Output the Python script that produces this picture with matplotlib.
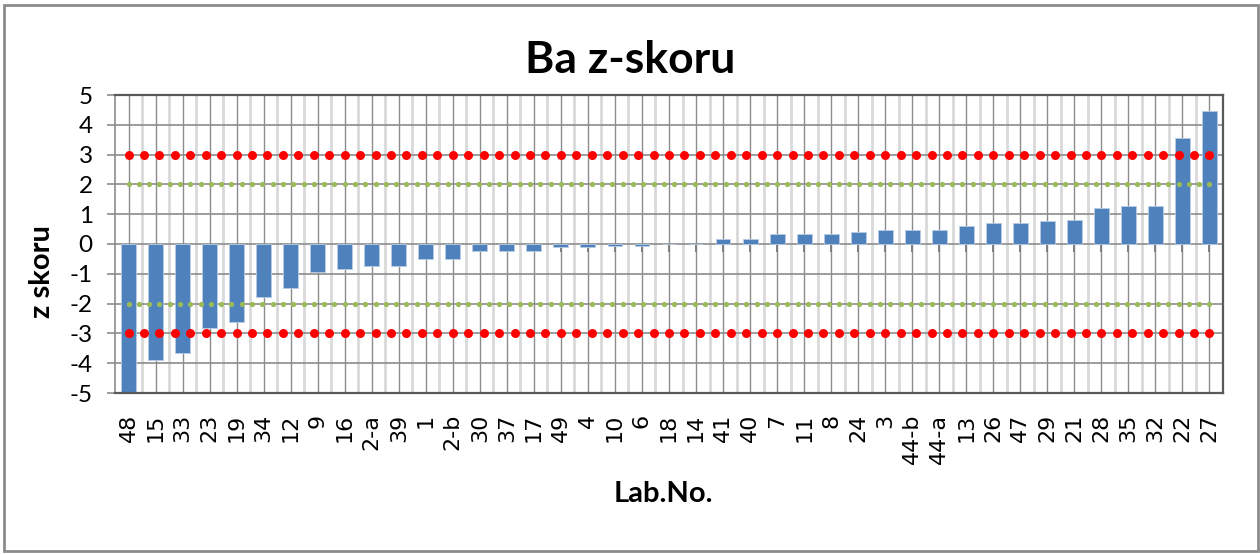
import matplotlib
matplotlib.use('Agg')
import matplotlib.pyplot as plt
import numpy as np
from matplotlib.patches import Rectangle

# Data
lab_no = ['48', '15', '33', '23', '19', '34', '12', '9', '16', '2-a', '39', '1',
          '2-b', '30', '37', '17', '49', '4', '10', '6', '18', '14', '41', '40',
          '7', '11', '8', '24', '3', '44-b', '44-a', '13', '26', '47', '29', '21',
          '28', '35', '32', '22', '27']
z_score = [-5.0, -3.89, -3.65, -2.82, -2.62, -1.79, -1.49, -0.95, -0.85, -0.75,
           -0.75, -0.5, -0.5, -0.22, -0.22, -0.22, -0.11, -0.11, -0.07, -0.07,
           0.0, 0.0, 0.16, 0.16, 0.35, 0.35, 0.35, 0.41, 0.46, 0.46, 0.46, 0.61,
           0.7, 0.7, 0.76, 0.8, 1.2, 1.29, 1.29, 3.55, 4.47]
action_limit = 3.0
warning_limit = 2.0
n_action_pts = 71
n_warning_pts = 106

# Colors
bar_color = '#4f81bd'
red = '#ff0000'
green = '#9bbb59'
grid_dark = '#8c8c8c'
grid_light = '#d9d9d9'

W, H = 1260, 554
fig = plt.figure(figsize=(W / 100, H / 100), dpi=100)
ax = fig.add_axes([115 / W, 1 - 393 / H, (1223 - 115) / W, (393 - 95) / H])

x = np.arange(len(lab_no))

# grid lines
ax.vlines(x[:-1] + 0.5, -5, 5, color=grid_light, linewidth=2, zorder=0)
ax.vlines(x, -5, 5, color=grid_dark, linewidth=1, zorder=0.5)
ax.hlines(np.arange(-4, 5), -0.5, len(lab_no) - 0.5, color=grid_dark,
          linewidth=1.2, zorder=0.5)

# bars
ax.bar(x, z_score, width=0.55, color=bar_color, edgecolor='#b8cce4',
       linewidth=0.6, zorder=2)
# small category ticks on the zero line
ax.vlines(x, -0.27, 0, color='#7f7f7f', linewidth=1.4, zorder=1)

# limit dots
xa = np.linspace(0, len(lab_no) - 1, n_action_pts)
xw = np.linspace(0, len(lab_no) - 1, n_warning_pts)
for lim in (action_limit, -action_limit):
    ax.plot(xa, [lim] * n_action_pts, linestyle='none', marker='o',
            markersize=6.5, color=red, markeredgewidth=0, zorder=3, clip_on=False)
for lim in (warning_limit, -warning_limit):
    ax.plot(xw, [lim] * n_warning_pts, linestyle='none', marker='o',
            markersize=3.8, color=green, markeredgewidth=0, zorder=3, clip_on=False)

ax.set_xlim(-0.5, len(lab_no) - 0.5)
ax.set_ylim(-5, 5)

# axes styling
for s in ['top', 'right', 'bottom']:
    ax.spines[s].set_color('#595959')
    ax.spines[s].set_linewidth(1.6)
ax.spines['left'].set_color(grid_dark)
ax.spines['left'].set_linewidth(1.2)

ax.set_yticks(np.arange(-5, 6))
ax.set_yticklabels([str(v) for v in range(-5, 6)], fontfamily='Lato', fontsize=17.5)
ax.tick_params(axis='y', length=6, color=grid_dark, width=1.2, pad=10)
ax.set_xticks(x)
ax.set_xticklabels(lab_no, rotation=90, fontfamily='DejaVu Sans', fontsize=16,
                   va='top')
ax.tick_params(axis='x', length=0, pad=15)

# titles
fig.text(630 / W, 1 - 60 / H, 'Ba z-skoru', ha='center', va='center',
         fontfamily='Lato', fontweight='bold', fontsize=32)
fig.text(42 / W, 1 - 272 / H, 'z skoru', ha='center', va='center', rotation=90,
         fontfamily='Lato', fontweight='bold', fontsize=21)
fig.text(663 / W, 1 - 494 / H, 'Lab.No.', ha='center', va='center',
         fontfamily='Lato', fontweight='bold', fontsize=21)

# chart frame
fig.patches.append(Rectangle((4 / W, 1 - 551 / H), (1258 - 4) / W, (551 - 5) / H,
                             transform=fig.transFigure, fill=False,
                             edgecolor='#8c8c8c', linewidth=2))

plt.savefig('out.png', dpi=100)
